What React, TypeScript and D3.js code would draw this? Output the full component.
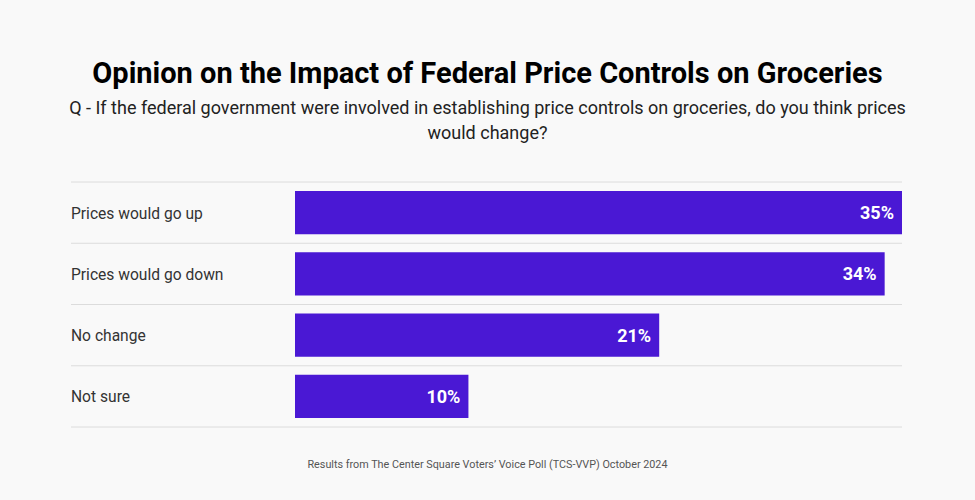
import React from "react";
import * as d3 from "d3";

const categories = ["Prices would go up", "Prices would go down", "No change", "Not sure"];
const values = [35, 34, 21, 10];
const title = "Opinion on the Impact of Federal Price Controls on Groceries";
const subtitleLines = [
  "Q - If the federal government were involved in establishing price controls on groceries, do you think prices",
  "would change?",
];
const footer = "Results from The Center Square Voters\u2019 Voice Poll (TCS-VVP) October 2024";

const W = 975;
const H = 500;
const left = 71;
const right = 902;
const barStart = 295;
const top = 182;
const bottom = 427;

export default function App() {
  const x = d3.scaleLinear().domain([0, 35]).range([barStart, right]);
  const y = d3.scaleBand().domain(categories).range([top, bottom]).paddingInner(0).paddingOuter(0);
  const rowH = y.bandwidth();
  const pad = 9;
  const font = "Roboto, 'Noto Sans', sans-serif";
  return (
    <div style={{ position: "fixed", left: 0, top: 0, width: W, height: H, background: "#f9f9f9" }}>
      <svg width={W} height={H} style={{ display: "block" }} fontFamily={font}>
        <rect width={W} height={H} fill="#f9f9f9" />
        <text x={W / 2} y={83} textAnchor="middle" fontSize={29} fontWeight={700} fill="#000">
          {title}
        </text>
        {subtitleLines.map((l, i) => (
          <text key={i} x={487.5} y={114 + i * 25} textAnchor="middle" fontSize={18} fill="#222">
            {l}
          </text>
        ))}
        {categories.map((c, i) => (
          <line key={"l" + i} x1={left} x2={right} y1={y(c)!} y2={y(c)!} stroke="#dcdcdc" strokeWidth={1} />
        ))}
        <line x1={left} x2={right} y1={bottom} y2={bottom} stroke="#dcdcdc" strokeWidth={1} />
        {categories.map((c, i) => {
          const y0 = y(c)!;
          return (
            <g key={c}>
              <text x={left} y={y0 + rowH / 2 + 6} fontSize={15.6} fill="#333">
                {c}
              </text>
              <rect x={x(0)} y={y0 + pad} width={x(values[i]) - x(0)} height={rowH - 2 * pad} fill="#4a18d4" />
              <text
                x={x(values[i]) - 8}
                y={y0 + rowH / 2 + 6.5}
                textAnchor="end"
                fontSize={18}
                fontWeight={700}
                fill="#fff"
              >
                {values[i] + "%"}
              </text>
            </g>
          );
        })}
        <text x={487.5} y={468} textAnchor="middle" fontSize={10.8} fill="#555">
          {footer}
        </text>
      </svg>
    </div>
  );
}
